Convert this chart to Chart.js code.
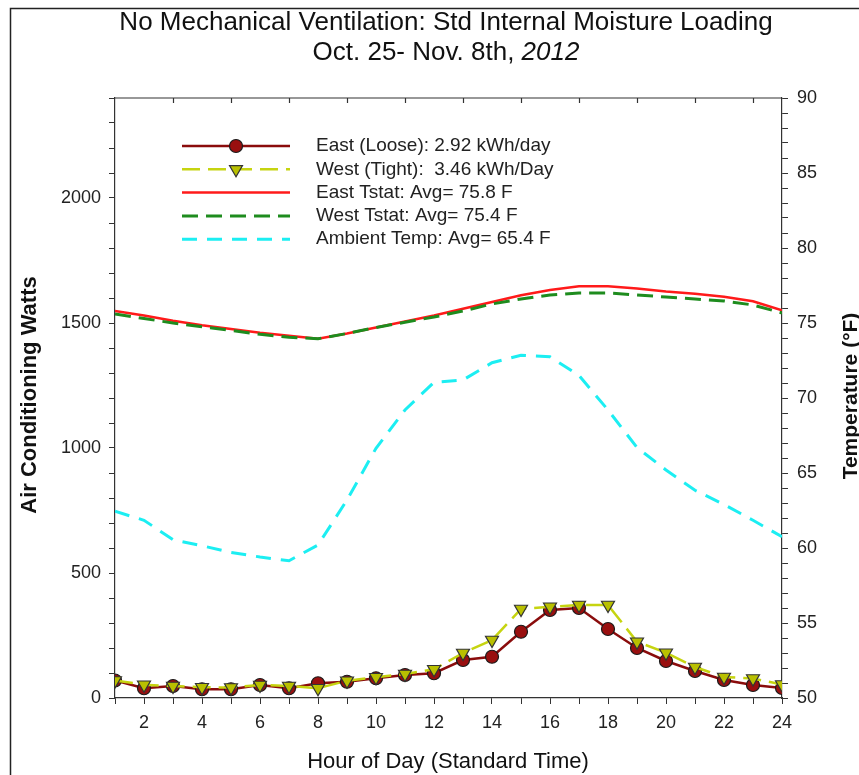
<!DOCTYPE html>
<html>
<head>
<meta charset="utf-8">
<script src="https://cdn.jsdelivr.net/npm/chart.js@4.4.1/dist/chart.umd.min.js"></script>
<style>
  html, body { margin: 0; padding: 0; background: #fff; }
  canvas { display: block; }
</style>
</head>
<body>
<canvas id="chart" width="859" height="775"></canvas>
<script>
// values
const hours = [1, 2, 3, 4, 5, 6, 7, 8, 9, 10, 11, 12, 13, 14, 15, 16, 17, 18, 19, 20, 21, 22, 23, 24];
const eastAC = [70, 39, 48, 35, 35, 52, 39, 59, 65, 79, 92, 99, 152, 165, 265, 352, 360, 276, 200, 148, 108, 72, 52, 40];
const westAC = [70, 53, 48, 43, 42, 52, 48, 39, 69, 83, 96, 115, 180, 232, 356, 365, 372, 372, 225, 181, 124, 84, 78, 54];
const eastTstat = [75.8, 75.5, 75.15, 74.85, 74.6, 74.35, 74.15, 73.95, 74.3, 74.7, 75.1, 75.5, 75.95, 76.4, 76.85, 77.2, 77.45, 77.45, 77.3, 77.1, 76.95, 76.75, 76.45, 75.85];
const westTstat = [75.6, 75.3, 75.0, 74.75, 74.5, 74.25, 74.05, 73.95, 74.3, 74.7, 75.05, 75.4, 75.8, 76.27, 76.6, 76.87, 77.0, 77.0, 76.87, 76.73, 76.6, 76.47, 76.2, 75.67];
const ambient = [62.45, 61.85, 60.55, 60.15, 59.7, 59.4, 59.15, 60.2, 63.2, 66.65, 69.2, 71.05, 71.2, 72.35, 72.85, 72.75, 71.5, 69.2, 66.7, 65.2, 63.85, 62.9, 61.85, 60.75];

const legendLabels = [
    "East (Loose): 2.92 kWh/day",
    "West (Tight):  3.46 kWh/Day",
    "East Tstat: Avg= 75.8 F",
    "West Tstat: Avg= 75.4 F",
    "Ambient Temp: Avg= 65.4 F"
];
const titleLine1 = "No Mechanical Ventilation: Std Internal Moisture Loading";
const titleLine2 = "Oct. 25- Nov. 8th, ";
const titleYear = "2012";
const xTitle = "Hour of Day (Standard Time)";
const leftTitle = "Air Conditioning Watts";
const rightTitle = "Temperature (\u00B0F)";

const FONT = "'Liberation Sans', Arial, sans-serif";
const AXIS = "#333";

const toPoints = (ys) => ys.map((y, i) => ({x: hours[i], y: y}));

const datasets = [
    {
        label: legendLabels[0], data: toPoints(eastAC), yAxisID: "y", order: 1,
        borderColor: "#8a0c0c", borderWidth: 2.5,
        pointStyle: "circle", pointRadius: 6.5, pointBackgroundColor: "#990f0f",
        pointBorderColor: "#1a1a1a", pointBorderWidth: 1.2
    },
    {
        label: legendLabels[1], data: toPoints(westAC), yAxisID: "y", order: 0,
        borderColor: "#c6d410", borderWidth: 2.5, borderDash: [18, 8],
        pointStyle: "triangle", pointRotation: 180, pointRadius: 7.5,
        pointBackgroundColor: "#b9c000", pointBorderColor: "#333", pointBorderWidth: 1.2
    },
    {
        label: legendLabels[2], data: toPoints(eastTstat), yAxisID: "y2", order: 3,
        borderColor: "#ff1a1a", borderWidth: 2.5, pointRadius: 0
    },
    {
        label: legendLabels[3], data: toPoints(westTstat), yAxisID: "y2", order: 2,
        borderColor: "#1e8c1e", borderWidth: 3, borderDash: [16, 8], pointRadius: 0
    },
    {
        label: legendLabels[4], data: toPoints(ambient), yAxisID: "y2", order: 4,
        borderColor: "#1ceef2", borderWidth: 3, borderDash: [15, 10], pointRadius: 0
    }
];

// titles, frame, top ticks and the legend box
const decor = {
    id: "decor",
    afterDraw (chart)
    {
        const ctx = chart.ctx;
        const area = chart.chartArea;
        const xs = chart.scales.x;
        ctx.save();

        // outer frame
        ctx.strokeStyle = "#222";
        ctx.lineWidth = 1.5;
        ctx.beginPath();
        ctx.moveTo(10.5, 800);
        ctx.lineTo(10.5, 8.5);
        ctx.lineTo(870, 8.5);
        ctx.stroke();

        // top edge of plot with inward ticks
        ctx.strokeStyle = AXIS;
        ctx.lineWidth = 1.2;
        ctx.beginPath();
        ctx.moveTo(area.left, area.top);
        ctx.lineTo(area.right, area.top);
        for (let h = 3; h <= 23; h += 2) {
            const px = Math.round(xs.getPixelForValue(h)) + 0.5;
            ctx.moveTo(px, area.top);
            ctx.lineTo(px, area.top + 5);
        }
        ctx.stroke();

        // title
        ctx.fillStyle = "#111";
        ctx.textBaseline = "middle";
        ctx.textAlign = "center";
        ctx.font = `26px ${FONT}`;
        ctx.fillText(titleLine1, 446, 23);
        ctx.textAlign = "left";
        const w1 = ctx.measureText(titleLine2).width;
        ctx.font = `italic 26px ${FONT}`;
        const w2 = ctx.measureText(titleYear).width;
        const start = 446 - (w1 + w2) / 2;
        ctx.font = `26px ${FONT}`;
        ctx.fillText(titleLine2, start, 53);
        ctx.font = `italic 26px ${FONT}`;
        ctx.fillText(titleYear, start + w1, 53);

        // axis titles
        ctx.textAlign = "center";
        ctx.font = `22px ${FONT}`;
        ctx.fillText(xTitle, 448, 762);
        ctx.font = `bold 22px ${FONT}`;
        ctx.save();
        ctx.translate(30, 395);
        ctx.rotate(-Math.PI / 2);
        ctx.fillText(leftTitle, 0, 0);
        ctx.restore();
        ctx.font = `bold 21px ${FONT}`;
        ctx.save();
        ctx.translate(851, 396);
        ctx.rotate(-Math.PI / 2);
        ctx.fillText(rightTitle, 0, 0);
        ctx.restore();

        // legend
        ctx.textAlign = "left";
        ctx.font = `19px ${FONT}`;
        datasets.forEach((ds, i) => {
            const y = 146 + i * 23.3;
            ctx.strokeStyle = ds.borderColor;
            ctx.lineWidth = ds.borderWidth;
            ctx.setLineDash(ds.borderDash || []);
            ctx.beginPath();
            ctx.moveTo(182, y);
            ctx.lineTo(290, y);
            ctx.stroke();
            ctx.setLineDash([]);
            if (ds.pointRadius > 0) {
                ctx.fillStyle = ds.pointBackgroundColor;
                ctx.strokeStyle = ds.pointBorderColor;
                ctx.lineWidth = ds.pointBorderWidth;
                Chart.helpers.drawPoint(ctx, {
                    pointStyle: ds.pointStyle, rotation: ds.pointRotation || 0,
                    radius: ds.pointRadius, borderWidth: ds.pointBorderWidth
                }, 236, y);
            }
            ctx.fillStyle = "#222";
            ctx.fillText(ds.label, 316, y);
        });

        ctx.restore();
    }
};

new Chart(document.getElementById("chart"), {
    type: "line",
    data: {datasets: datasets},
    plugins: [decor],
    options: {
        responsive: false,
        animation: false,
        layout: {padding: {top: 98}},
        plugins: {legend: {display: false}, title: {display: false}, tooltip: {enabled: false}},
        scales: {
            x: {
                type: "linear", min: 1, max: 24,
                afterFit: (s) => { s.height = 77; },
                border: {display: true, color: AXIS, width: 1.2},
                grid: {drawOnChartArea: false, drawTicks: true, tickLength: 6, color: AXIS},
                ticks: {
                    stepSize: 1, autoSkip: false, maxRotation: 0, padding: 8,
                    color: "#222", font: {family: FONT, size: 18},
                    callback: (v) => (v % 2 === 0 ? v : "")
                }
            },
            y: {
                position: "left", min: 0, max: 2400,
                afterFit: (s) => { s.width = 115; },
                border: {display: true, color: AXIS, width: 1.2},
                grid: {drawOnChartArea: false, drawTicks: true, tickLength: 6, color: AXIS},
                ticks: {
                    stepSize: 100, autoSkip: false, padding: 8,
                    color: "#222", font: {family: FONT, size: 18},
                    callback: (v) => (v % 500 === 0 && v <= 2000 ? v : "")
                }
            },
            y2: {
                position: "right", min: 50, max: 90,
                afterFit: (s) => { s.width = 77; },
                border: {display: true, color: AXIS, width: 1.2},
                grid: {drawOnChartArea: false, drawTicks: true, tickLength: 6, color: AXIS},
                ticks: {
                    stepSize: 1, autoSkip: false, padding: 9,
                    color: "#222", font: {family: FONT, size: 18},
                    callback: (v) => (v % 5 === 0 ? v : "")
                }
            }
        }
    }
});
</script>
</body>
</html>
